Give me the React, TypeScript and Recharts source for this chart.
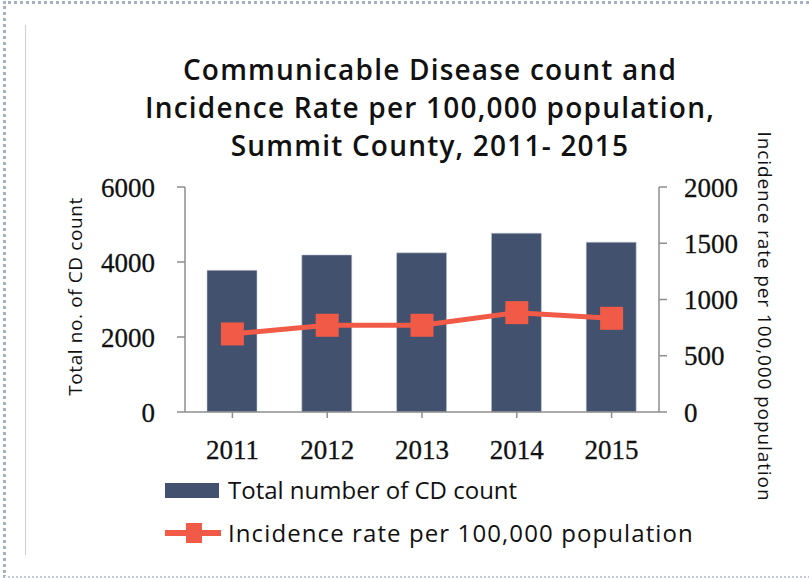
import React from "react";
import { ComposedChart, Bar, Line, XAxis, YAxis } from "recharts";

const years = ["2011", "2012", "2013", "2014", "2015"];
const cdCounts = [3780, 4190, 4245, 4770, 4530];
const incidenceRates = [694, 771, 771, 883, 833];
const countTicks = [0, 2000, 4000, 6000];
const rateTicks = [0, 500, 1000, 1500, 2000];
const titleLines = [
  "Communicable Disease count and",
  "Incidence Rate per 100,000 population,",
  "Summit County, 2011- 2015",
];

const BAR_COLOR = "#41516e";
const LINE_COLOR = "#f15a47";
const AXIS_COLOR = "#8e8e8e";
const SANS = "'Open Sans', 'Noto Sans', sans-serif";
const SERIF = "'Liberation Serif', serif";

const data = years.map((year, i) => ({
  year,
  count: cdCounts[i],
  rate: incidenceRates[i],
}));

const tickStyle = { fontFamily: SERIF, fontSize: 27, fill: "#111", stroke: "#111", strokeWidth: 0.3 };

function SquareDot(props: any) {
  const { cx, cy, index } = props;
  if (cx == null || cy == null) return null;
  return <rect key={`dot-${index}`} x={cx - 11.5} y={cy - 11.5} width={23} height={23} fill={LINE_COLOR} />;
}

export default function App() {
  return (
    <div
      style={{
        position: "absolute",
        left: 0,
        top: 0,
        width: 809,
        height: 578,
        background: "#fff",
        fontFamily: SANS,
        overflow: "hidden",
      }}
    >
      {/* dotted frame, cut off on the right */}
      <div
        style={{
          position: "absolute",
          left: 3,
          top: 1,
          width: 820,
          height: 572,
          borderTop: "3px dotted #a7b2c0",
          borderLeft: "3px dotted #a7b2c0",
          borderBottom: "2px dotted #c3cad3",
        }}
      />
      <div style={{ position: "absolute", left: 25, top: 25, width: 1, height: 530, background: "#cfcfcf" }} />

      {titleLines.map((line, i) => (
        <div
          key={line}
          style={{
            position: "absolute",
            left: 0,
            width: 860,
            top: 50 + i * 38,
            lineHeight: "38px",
            textAlign: "center",
            fontSize: 28,
            fontWeight: 600,
            letterSpacing: 1.2,
            color: "#111",
            whiteSpace: "nowrap",
          }}
        >
          {line}
        </div>
      ))}

      <div style={{ position: "absolute", left: 0, top: 0 }}>
        <ComposedChart width={809} height={578} data={data} margin={{ top: 187, right: 50, bottom: 116, left: 65 }}>
          <XAxis
            dataKey="year"
            height={50}
            stroke={AXIS_COLOR}
            strokeWidth={1.5}
            tickSize={6}
            tickMargin={22}
            tick={tickStyle}
          />
          <YAxis
            yAxisId="left"
            width={120}
            domain={[0, 6000]}
            ticks={countTicks}
            stroke={AXIS_COLOR}
            strokeWidth={1.5}
            tickSize={8}
            tickMargin={22}
            tick={tickStyle}
            label={{
              value: "Total no. of CD count",
              angle: -90,
              position: "center",
              dx: -50,
              dy: -3,
              style: { fontFamily: SANS, fontSize: 19, letterSpacing: 0.6, fill: "#111" },
            }}
          />
          <YAxis
            yAxisId="right"
            orientation="right"
            width={100}
            domain={[0, 2000]}
            ticks={rateTicks}
            stroke={AXIS_COLOR}
            strokeWidth={1.5}
            tickSize={8}
            tickMargin={17}
            tick={{ ...tickStyle, textAnchor: "start" }}
            label={{
              value: "Incidence  rate per 100,000 population",
              angle: 90,
              position: "center",
              dx: 56,
              dy: 17,
              style: { fontFamily: SANS, fontSize: 19, letterSpacing: 0.9, fill: "#111" },
            }}
          />
          <Bar yAxisId="left" dataKey="count" fill={BAR_COLOR} stroke="#c9ced6" strokeWidth={0.6} barSize={50} isAnimationActive={false} />
          <Line
            yAxisId="right"
            dataKey="rate"
            stroke={LINE_COLOR}
            strokeWidth={5}
            dot={SquareDot}
            activeDot={false}
            isAnimationActive={false}
          />
        </ComposedChart>
      </div>

      {/* legend */}
      <div style={{ position: "absolute", left: 165, top: 483, width: 54, height: 15, background: BAR_COLOR }} />
      <div
        style={{
          position: "absolute",
          left: 228,
          top: 474,
          lineHeight: "32px",
          fontSize: 24,
          color: "#111",
          whiteSpace: "nowrap",
        }}
      >
        Total number of CD count
      </div>
      <div style={{ position: "absolute", left: 165, top: 530, width: 56, height: 6, background: LINE_COLOR }} />
      <div style={{ position: "absolute", left: 186, top: 523, width: 16, height: 20, background: LINE_COLOR }} />
      <div
        style={{
          position: "absolute",
          left: 228,
          top: 517,
          lineHeight: "32px",
          fontSize: 24,
          letterSpacing: 1.1,
          color: "#111",
          whiteSpace: "nowrap",
        }}
      >
        Incidence rate per 100,000 population
      </div>
    </div>
  );
}
